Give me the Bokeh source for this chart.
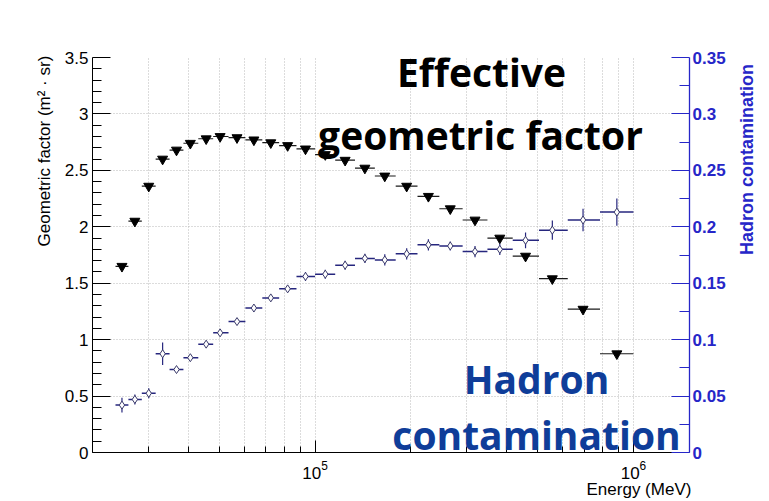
from bokeh.plotting import figure
from bokeh.models import (Range1d, LinearAxis, FixedTicker, NumeralTickFormatter,
                          Label, ColumnDataSource)
from bokeh.embed import file_html
from bokeh.resources import INLINE
import math

# ---------------- data ----------------
energy = [24750, 27170, 30040, 33210, 36720, 40580, 45500, 50330, 56870, 64260,
          72610, 82030, 93330, 107700, 124300, 143400, 165600, 194000, 227000,
          265900, 318000, 380400, 458300, 556300, 694600, 887000]
e_lo = [23620, 25930, 28570, 31580, 34920, 38600, 42980, 47870, 53490, 60430,
        68290, 77140, 87440, 100000, 115700, 133500, 154100, 179200, 209800,
        245700, 290800, 347900, 417700, 505100, 621900, 785200]
e_hi = [25930, 28570, 31580, 34920, 38600, 42980, 47870, 53490, 60430, 68290,
        77140, 87440, 100000, 115700, 133500, 154100, 179200, 209800, 245700,
        290800, 347900, 417700, 505100, 621900, 785200, 1000000]
geo = [1.65, 2.05, 2.36, 2.60, 2.68, 2.74, 2.78, 2.80, 2.79, 2.77,
       2.745, 2.72, 2.69, 2.64, 2.59, 2.52, 2.45, 2.36, 2.27, 2.16,
       2.06, 1.90, 1.74, 1.54, 1.27, 0.875]
hadron = [0.042, 0.047, 0.0525, 0.0875, 0.0735, 0.084, 0.096, 0.106, 0.116, 0.128,
          0.137, 0.145, 0.156, 0.158, 0.166, 0.172, 0.1706, 0.176, 0.184, 0.183,
          0.178, 0.180, 0.188, 0.197, 0.206, 0.213]
hadron_err = [0.0065, 0.0045, 0.0045, 0.010, 0.002, 0.002, 0.002, 0.002, 0.002, 0.002,
              0.002, 0.002, 0.004, 0.004, 0.004, 0.004, 0.005, 0.005, 0.005, 0.004,
              0.005, 0.005, 0.007, 0.0085, 0.010, 0.012]

x_major = [1e5, 1e6]
x_minor = [2e4, 3e4, 4e4, 5e4, 6e4, 7e4, 8e4, 9e4,
           2e5, 3e5, 4e5, 5e5, 6e5, 7e5, 8e5, 9e5]
y_major = [0, 0.5, 1, 1.5, 2, 2.5, 3, 3.5]
y_minor = [0.1, 0.2, 0.3, 0.4, 0.6, 0.7, 0.8, 0.9, 1.1, 1.2, 1.3, 1.4, 1.6, 1.7, 1.8, 1.9,
           2.1, 2.2, 2.3, 2.4, 2.6, 2.7, 2.8, 2.9, 3.1, 3.2, 3.3, 3.4]
h_major = [0, 0.05, 0.1, 0.15, 0.2, 0.25, 0.3, 0.35]
h_minor = [0.025, 0.075, 0.125, 0.175, 0.225, 0.275, 0.325]

BLUE_AX = "#2626c8"
BLUE_TXT = "#0f3d99"
HAD_BAR = "#26267e"
GRID = "#b8b8b8"
NB = "\u00a0"

src = ColumnDataSource(dict(
    energy=energy, e_lo=e_lo, e_hi=e_hi, geo=geo, hadron=hadron,
    h_lo=[h - e for h, e in zip(hadron, hadron_err)],
    h_hi=[h + e for h, e in zip(hadron, hadron_err)],
))

p = figure(width=769, height=501, x_axis_type="log",
           x_range=Range1d(2e4, 1.5e6), y_range=Range1d(0, 3.5),
           output_backend="svg", toolbar_location=None,
           min_border_left=92, min_border_right=75,
           min_border_top=57, min_border_bottom=44)
p.outline_line_color = None
p.background_fill_color = "white"
p.border_fill_color = "white"
p.extra_y_ranges = {"had": Range1d(0, 0.35)}

# ---- x axis
xa = p.xaxis[0]
xa.ticker = FixedTicker(ticks=x_major, minor_ticks=x_minor)
xa.axis_line_color = "black"
xa.major_tick_in = 12
xa.major_tick_out = 0
xa.minor_tick_in = 6
xa.minor_tick_out = 0
xa.major_tick_line_color = "black"
xa.minor_tick_line_color = "black"
xa.major_label_text_font = "Liberation Sans"
xa.major_label_text_font_size = "17px"
xa.major_label_text_color = "black"
xa.major_label_standoff = 8
# centred title; leading no-break spaces push the words to the right end
xa.axis_label = NB * 105 + "Energy (MeV)"
xa.axis_label_text_font = "Liberation Sans"
xa.axis_label_text_font_size = "17px"
xa.axis_label_text_font_style = "normal"
xa.axis_label_text_color = "black"
xa.axis_label_standoff = -2

# ---- left y axis
ya = p.yaxis[0]
ya.ticker = FixedTicker(ticks=y_major, minor_ticks=y_minor)
ya.formatter = NumeralTickFormatter(format="0.[00]")
ya.axis_line_color = "black"
ya.major_tick_in = 18
ya.major_tick_out = 0
ya.minor_tick_in = 9
ya.minor_tick_out = 0
ya.major_tick_line_color = "black"
ya.minor_tick_line_color = "black"
ya.major_label_text_font = "Liberation Sans"
ya.major_label_text_font_size = "17px"
ya.major_label_text_color = "black"
ya.major_label_standoff = 4
# centred title reading upward; leading no-break spaces push it to the top
ya.axis_label = NB * 44 + "Geometric factor (m\u00b2 \u00b7 sr)"
ya.axis_label_text_font = "Liberation Sans"
ya.axis_label_text_font_size = "17px"
ya.axis_label_text_font_style = "normal"
ya.axis_label_text_color = "black"
ya.axis_label_standoff = 8

# ---- right y axis (hadron contamination)
ra = LinearAxis(y_range_name="had",
                ticker=FixedTicker(ticks=h_major, minor_ticks=h_minor),
                formatter=NumeralTickFormatter(format="0.[00]"))
ra.axis_line_color = BLUE_AX
ra.axis_line_width = 1.3
ra.major_tick_line_color = BLUE_AX
ra.minor_tick_line_color = BLUE_AX
ra.major_tick_in = 18
ra.major_tick_out = 0
ra.minor_tick_in = 10
ra.minor_tick_out = 0
ra.major_label_text_color = BLUE_AX
ra.major_label_text_font = "Liberation Sans"
ra.major_label_text_font_style = "bold"
ra.major_label_text_font_size = "17px"
ra.major_label_standoff = 3
# with a numeric orientation the title starts at the axis centre and reads upward
ra.axis_label = "Hadron contamination"
ra.axis_label_orientation = math.pi / 2
ra.axis_label_text_font = "Liberation Sans"
ra.axis_label_text_font_size = "18px"
ra.axis_label_text_font_style = "bold"
ra.axis_label_text_color = BLUE_AX
ra.axis_label_standoff = 18
p.add_layout(ra, "right")

# ---- grids
p.xgrid.grid_line_color = GRID
p.xgrid.grid_line_dash = "1 2"
p.xgrid.minor_grid_line_color = GRID
p.xgrid.minor_grid_line_dash = "1 2"
p.ygrid.grid_line_color = GRID
p.ygrid.grid_line_dash = "1 2"

# ---- geometric factor
p.segment(x0="e_lo", x1="e_hi", y0="geo", y1="geo", source=src,
          line_color="#1a1a1a", line_width=1.2)
p.scatter(x="energy", y="geo", source=src, marker="inverted_triangle",
          size=10, fill_color="black", line_color="black")

# ---- hadron contamination
p.segment(x0="e_lo", x1="e_hi", y0="hadron", y1="hadron", source=src,
          y_range_name="had", line_color=HAD_BAR, line_width=1.5)
p.segment(x0="energy", x1="energy", y0="h_lo", y1="h_hi", source=src,
          y_range_name="had", line_color=HAD_BAR, line_width=1.2)
p.scatter(x="energy", y="hadron", source=src, y_range_name="had",
          marker="diamond", size=8, fill_color="white", line_color="#3a3a6a",
          line_width=1)


# ---- big annotation texts (inside the frame)
def lab(text, x, y, color):
    p.add_layout(Label(x=x, y=y, x_units="screen", y_units="screen", text=text,
                       text_align="center", text_baseline="alphabetic",
                       text_font="Open Sans", text_font_style="bold",
                       text_font_size="39px", text_color=color))


lab("Effective", 389, 381, "black")
lab("geometric factor", 388, 318, "black")
lab("Hadron", 444, 74, BLUE_TXT)
lab("contamination", 444, 18, BLUE_TXT)

open("out.html", "w").write(file_html(p, INLINE))
